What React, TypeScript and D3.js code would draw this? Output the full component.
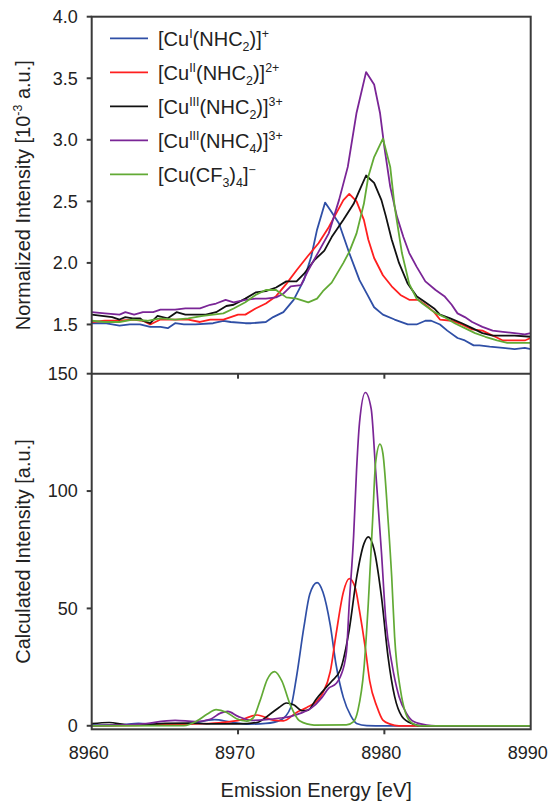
import React from "react";
import * as d3 from "d3";

// page and plot frame (px)
const W = 548;
const H = 801;
const X0 = 91.7;
const X1 = 530.7;
const TOP_Y0 = 16.7;
const MID_Y = 373.7;
const BOT_Y1 = 729.3;

const FONT = "'Liberation Sans', Arial, Helvetica, sans-serif";
const INK = "#222";
const FRAME = "#3a3a3a";

// axes
const energyTicks = [8960, 8970, 8980, 8990];
const normTicks = [1.5, 2.0, 2.5, 3.0, 3.5, 4.0];
const calcTicks = [0, 50, 100, 150];

const seriesColors = ["#2f4fa6", "#ff1f1f", "#111111", "#7a2596", "#62aa35"];

// legend labels: [text, "sup" | "sub" | undefined]
type Seg = [string, string?];
const legendLabels: Seg[][] = [
  [["[Cu"], ["I", "sup"], ["(NHC"], ["2", "sub"], [")]"], ["+", "sup"]],
  [["[Cu"], ["II", "sup"], ["(NHC"], ["2", "sub"], [")]"], ["2+", "sup"]],
  [["[Cu"], ["III", "sup"], ["(NHC"], ["2", "sub"], [")]"], ["3+", "sup"]],
  [["[Cu"], ["III", "sup"], ["(NHC"], ["4", "sub"], [")]"], ["3+", "sup"]],
  [["[Cu(CF"], ["3", "sub"], [")"], ["4", "sub"], ["]"], ["\u2212", "sup"]],
];

// experimental spectra, [energy eV, intensity 1e-3 a.u.]
const expCuI: [number, number][] = [
  [8960.0, 1.51], [8960.9, 1.51], [8961.9, 1.49], [8962.6, 1.5], [8963.3, 1.5], [8964.0, 1.48],
  [8964.7, 1.48], [8965.2, 1.47], [8965.7, 1.51], [8966.3, 1.5], [8967.1, 1.5], [8968.3, 1.51],
  [8969.0, 1.53], [8969.5, 1.52], [8970.5, 1.51], [8970.9, 1.51], [8971.9, 1.52], [8972.4, 1.56],
  [8973.1, 1.6], [8973.8, 1.7], [8974.5, 1.86], [8975.0, 2.05], [8975.4, 2.27], [8975.95, 2.49],
  [8976.3, 2.43], [8976.9, 2.32], [8977.6, 2.08], [8978.3, 1.86], [8978.8, 1.75], [8979.3, 1.64],
  [8979.9, 1.58], [8980.7, 1.54], [8981.6, 1.5], [8982.2, 1.5], [8982.8, 1.53], [8983.2, 1.53],
  [8983.8, 1.5], [8984.3, 1.45], [8985.0, 1.39], [8985.5, 1.37], [8986.1, 1.33], [8986.5, 1.33],
  [8987.2, 1.32], [8988.1, 1.31], [8988.9, 1.3], [8989.6, 1.31], [8990.0, 1.3],
];
const expCuII: [number, number][] = [
  [8960.0, 1.52], [8960.9, 1.53], [8961.9, 1.53], [8962.8, 1.54], [8963.5, 1.53], [8964.0, 1.5],
  [8964.7, 1.54], [8965.7, 1.54], [8966.6, 1.54], [8967.4, 1.52], [8968.1, 1.54], [8969.0, 1.54],
  [8970.0, 1.58], [8970.5, 1.58], [8971.2, 1.63], [8971.9, 1.67], [8972.6, 1.73], [8973.3, 1.83],
  [8974.0, 1.94], [8974.8, 2.06], [8975.5, 2.16], [8976.2, 2.29], [8976.7, 2.4], [8977.2, 2.51],
  [8977.6, 2.56], [8978.1, 2.5], [8978.6, 2.35], [8978.9, 2.19], [8979.3, 2.04], [8979.9, 1.9],
  [8980.5, 1.81], [8981.1, 1.74], [8981.7, 1.7], [8982.3, 1.7], [8982.8, 1.66], [8983.4, 1.6],
  [8983.8, 1.54], [8984.6, 1.53], [8985.3, 1.5], [8986.0, 1.46], [8986.7, 1.45], [8987.4, 1.41],
  [8988.1, 1.37], [8988.9, 1.37], [8989.6, 1.37], [8990.0, 1.39],
];
const expCuIII2: [number, number][] = [
  [8960.0, 1.58], [8960.7, 1.57], [8961.4, 1.56], [8961.9, 1.54], [8962.3, 1.56], [8962.8, 1.55],
  [8963.3, 1.55], [8963.5, 1.53], [8964.0, 1.51], [8964.5, 1.57], [8965.2, 1.55], [8965.8, 1.6],
  [8966.4, 1.58], [8967.1, 1.58], [8967.8, 1.58], [8968.5, 1.6], [8969.2, 1.65], [8969.7, 1.66],
  [8970.5, 1.71], [8971.2, 1.76], [8971.9, 1.77], [8972.6, 1.8], [8973.3, 1.85], [8974.0, 1.85],
  [8974.5, 1.91], [8975.2, 2.02], [8975.9, 2.1], [8976.4, 2.21], [8977.2, 2.35], [8977.9, 2.48],
  [8978.3, 2.59], [8978.75, 2.71], [8979.3, 2.65], [8979.8, 2.51], [8980.1, 2.38], [8980.5, 2.19],
  [8981.0, 2.0], [8981.6, 1.83], [8982.2, 1.73], [8982.8, 1.68], [8983.4, 1.63], [8983.8, 1.58],
  [8984.5, 1.55], [8985.3, 1.51], [8986.0, 1.47], [8986.7, 1.43], [8987.4, 1.41], [8988.1, 1.41],
  [8988.9, 1.41], [8990.0, 1.4],
];
const expCuIII4: [number, number][] = [
  [8960.0, 1.6], [8960.9, 1.59], [8961.9, 1.58], [8962.3, 1.6], [8962.9, 1.58], [8963.5, 1.6],
  [8964.2, 1.6], [8964.7, 1.62], [8965.7, 1.62], [8966.4, 1.63], [8967.4, 1.63], [8968.1, 1.66],
  [8968.5, 1.67], [8969.15, 1.7], [8969.7, 1.68], [8970.5, 1.7], [8971.2, 1.71], [8971.9, 1.71],
  [8972.6, 1.72], [8973.1, 1.75], [8973.6, 1.81], [8974.3, 1.82], [8974.8, 1.94], [8975.5, 2.09],
  [8976.2, 2.24], [8976.9, 2.51], [8977.5, 2.78], [8978.1, 3.22], [8978.75, 3.55], [8979.3, 3.45],
  [8979.7, 3.22], [8980.0, 2.94], [8980.4, 2.62], [8980.85, 2.38], [8981.3, 2.21], [8981.7, 2.08],
  [8982.2, 1.97], [8982.8, 1.85], [8983.5, 1.78], [8984.1, 1.73], [8984.6, 1.66], [8985.0, 1.59],
  [8985.5, 1.56], [8986.0, 1.52], [8986.7, 1.48], [8987.4, 1.45], [8988.1, 1.44], [8988.9, 1.43],
  [8989.6, 1.42], [8990.0, 1.43],
];
const expCuCF3: [number, number][] = [
  [8960.0, 1.53], [8960.9, 1.52], [8961.9, 1.52], [8962.8, 1.54], [8963.8, 1.53], [8964.7, 1.55],
  [8965.7, 1.54], [8966.6, 1.55], [8967.6, 1.57], [8968.3, 1.58], [8969.0, 1.59], [8969.7, 1.63],
  [8970.5, 1.68], [8971.2, 1.74], [8971.9, 1.78], [8972.6, 1.78], [8973.3, 1.72], [8974.0, 1.71],
  [8974.8, 1.68], [8975.4, 1.71], [8975.8, 1.77], [8976.4, 1.84], [8977.2, 2.0], [8977.6, 2.09],
  [8978.1, 2.24], [8978.6, 2.48], [8978.9, 2.7], [8979.3, 2.86], [8979.9, 3.01], [8980.4, 2.78],
  [8980.7, 2.46], [8981.2, 2.08], [8981.7, 1.83], [8982.2, 1.71], [8982.6, 1.67], [8983.4, 1.6],
  [8984.1, 1.56], [8984.8, 1.51], [8985.5, 1.47], [8986.2, 1.43], [8986.9, 1.4], [8987.7, 1.37],
  [8988.4, 1.35], [8989.1, 1.35], [8990.0, 1.35],
];

// calculated spectra, [energy eV, intensity a.u.]
const calcCuI: [number, number][] = [
  [8960, 0.3], [8962, 0.5], [8963.2, 1.0], [8964.5, 0.5], [8966.5, 0.8], [8968.4, 2.6],
  [8969.5, 1.6], [8970.7, 0.7], [8971.9, 1.0], [8972.9, 2.4], [8973.6, 7.8], [8974.0, 21],
  [8974.5, 42], [8974.9, 56], [8975.4, 61], [8975.8, 57], [8976.3, 43], [8976.7, 26],
  [8977.2, 12], [8977.7, 4.3], [8978.1, 1.0], [8978.8, 0.1], [8980, 0], [8990, 0],
];
const calcCuII: [number, number][] = [
  [8960, 0], [8963, 0.2], [8965, 0.5], [8966.7, 0.7], [8968.7, 1.3], [8970.2, 2.5],
  [8971.3, 4.6], [8972.4, 2.4], [8973.1, 2.1], [8974.0, 5.7], [8974.7, 7.8], [8975.4, 10.6],
  [8975.8, 14], [8976.3, 23], [8976.7, 39], [8977.2, 57], [8977.6, 62.7], [8978.0, 59],
  [8978.3, 49], [8978.7, 33], [8979.0, 19], [8979.5, 8], [8979.9, 2.4], [8980.4, 0.7],
  [8981, 0], [8990, 0],
];
const calcCuIII2: [number, number][] = [
  [8960, 0.9], [8961.2, 1.4], [8962.4, 0.4], [8963.5, 0.5], [8965, 1.0], [8966.6, 1.1],
  [8968.5, 0.8], [8970, 0.8], [8971.3, 1.4], [8972.2, 5], [8972.8, 7.8], [8973.3, 9.7],
  [8973.8, 9], [8974.4, 6.4], [8974.8, 6.7], [8975.3, 11], [8975.9, 15.5], [8976.4, 19],
  [8977.0, 24], [8977.6, 41], [8978.1, 63], [8978.6, 77.5], [8978.9, 80.5], [8979.3, 75],
  [8979.8, 55], [8980.25, 29.5], [8980.7, 12.5], [8981.2, 4], [8981.9, 0.9], [8982.6, 0],
  [8990, 0],
];
const calcCuIII4: [number, number][] = [
  [8960, 0], [8963.3, 0.7], [8965.7, 2.3], [8967.1, 1.8], [8968.1, 2.8], [8968.8, 5.4],
  [8969.3, 6.1], [8970.0, 4], [8970.9, 2.3], [8971.9, 2.6], [8972.9, 3.3], [8973.6, 4],
  [8974.3, 5.4], [8975.0, 7.5], [8975.7, 11.8], [8976.2, 16], [8976.7, 18], [8977.0, 21],
  [8977.4, 31], [8977.6, 52], [8977.9, 81], [8978.1, 109], [8978.3, 129], [8978.7, 142],
  [8979.1, 135], [8979.4, 109], [8979.8, 74], [8980.1, 45], [8980.5, 27], [8981.0, 12.5],
  [8981.5, 5.4], [8982.0, 1.8], [8982.9, 0.3], [8983.5, 0], [8990, 0],
];
const calcCuCF3: [number, number][] = [
  [8960, 0], [8966.3, 0.1], [8967.2, 2.1], [8967.9, 5], [8968.5, 6.9], [8969.2, 5.8],
  [8969.9, 3], [8970.6, 2], [8971.05, 3.5], [8971.5, 10.6], [8972.0, 19.8], [8972.5, 23.1],
  [8973.0, 19], [8973.55, 9.2], [8974.2, 2.1], [8975.2, 0.3], [8977.4, 0.4], [8977.9, 1.8],
  [8978.2, 6.8], [8978.6, 24], [8978.9, 52], [8979.2, 88], [8979.4, 112], [8979.7, 120],
  [8979.9, 116], [8980.25, 88], [8980.5, 63.6], [8980.7, 38], [8981.1, 15.3], [8981.45, 5.4],
  [8981.9, 1.1], [8982.4, 0], [8990, 0],
];

const expSeries = [expCuI, expCuII, expCuIII2, expCuIII4, expCuCF3];
const calcSeries = [calcCuI, calcCuII, calcCuIII2, calcCuIII4, calcCuCF3];

// small rich-text helper for sub/superscripts
function Rich({ segs, size, ...rest }: { segs: Seg[]; size: number; [k: string]: any }) {
  let shift = 0;
  return (
    <text fontSize={size} {...rest}>
      {segs.map(([t, k], i) => {
        const target = k === "sup" ? -0.38 * size : k === "sub" ? 0.25 * size : 0;
        const dy = target - shift;
        shift = target;
        return (
          <tspan key={i} dy={dy} fontSize={k ? size * 0.62 : size}>
            {t}
          </tspan>
        );
      })}
    </text>
  );
}

export default function App() {
  const x = d3.scaleLinear().domain([8960, 8990]).range([X0, X1]);
  const yTop = d3.scaleLinear().domain([1.1, 4.0]).range([MID_Y, TOP_Y0]);
  const yBot = d3.scaleLinear().domain([-1.5, 150]).range([BOT_Y1, MID_Y]);

  const lineTop = d3
    .line<[number, number]>()
    .x((d) => x(d[0]))
    .y((d) => yTop(d[1]));
  const lineBot = d3
    .line<[number, number]>()
    .x((d) => x(d[0]))
    .y((d) => yBot(d[1]))
    .curve(d3.curveMonotoneX);

  return (
    <div style={{ position: "absolute", left: 0, top: 0 }}>
      <svg width={W} height={H} fontFamily={FONT} style={{ display: "block", background: "#fff" }}>
        {/* curves */}
        {expSeries.map((s, i) => (
          <path key={"e" + i} d={lineTop(s) || ""} fill="none" stroke={seriesColors[i]} strokeWidth={1.8} strokeLinejoin="round" />
        ))}
        {calcSeries.map((s, i) => (
          <path key={"c" + i} d={lineBot(s) || ""} fill="none" stroke={seriesColors[i]} strokeWidth={1.7} />
        ))}

        {/* frame */}
        <g stroke={FRAME} strokeWidth={2} fill="none">
          <rect x={X0} y={TOP_Y0} width={X1 - X0} height={BOT_Y1 - TOP_Y0} />
          <line x1={X0} x2={X1} y1={MID_Y} y2={MID_Y} />
          {normTicks.map((t) => (
            <line key={"nt" + t} x1={X0 - 5} x2={X0} y1={yTop(t)} y2={yTop(t)} />
          ))}
          {calcTicks.map((t) => (
            <line key={"ct" + t} x1={X0 - 5} x2={X0} y1={yBot(t)} y2={yBot(t)} />
          ))}
          {energyTicks.slice(1, -1).map((t) => (
            <g key={"xt" + t}>
              <line x1={x(t)} x2={x(t)} y1={MID_Y} y2={MID_Y + 5} />
              <line x1={x(t)} x2={x(t)} y1={BOT_Y1} y2={BOT_Y1 + 5} />
            </g>
          ))}
        </g>

        {/* tick labels */}
        <g fill={INK} fontSize={18}>
          {normTicks.map((t) => (
            <text key={"nl" + t} x={X0 - 14} y={yTop(t)} dy="0.35em" textAnchor="end">
              {d3.format(".1f")(t)}
            </text>
          ))}
          {calcTicks.map((t) => (
            <text key={"cl" + t} x={X0 - 14} y={yBot(t)} dy="0.35em" textAnchor="end">
              {t}
            </text>
          ))}
          {energyTicks.map((t) => (
            <text key={"xl" + t} x={x(t) - 3} y={759} textAnchor="middle">
              {t}
            </text>
          ))}
        </g>

        {/* axis titles */}
        <g fill={INK}>
          <Rich
            segs={[["Normalized Intensity [10"], ["-3", "sup"], [" a.u.]"]]}
            size={20}
            textAnchor="middle"
            transform={`translate(30,${(TOP_Y0 + MID_Y) / 2}) rotate(-90)`}
          />
          <Rich
            segs={[["Calculated Intensity [a.u.]"]]}
            size={20}
            textAnchor="middle"
            transform={`translate(30,${(MID_Y + BOT_Y1) / 2}) rotate(-90)`}
          />
          <text x={(X0 + X1) / 2 + 5} y={797} fontSize={20} textAnchor="middle">
            Emission Energy [eV]
          </text>
        </g>

        {/* legend */}
        {legendLabels.map((segs, i) => {
          const ly = 38.3 + i * 34;
          return (
            <g key={"lg" + i}>
              <line x1={110} x2={148} y1={ly} y2={ly} stroke={seriesColors[i]} strokeWidth={1.8} />
              <Rich segs={segs} size={20} x={158} y={ly + 7.5} fill={INK} />
            </g>
          );
        })}
      </svg>
    </div>
  );
}
